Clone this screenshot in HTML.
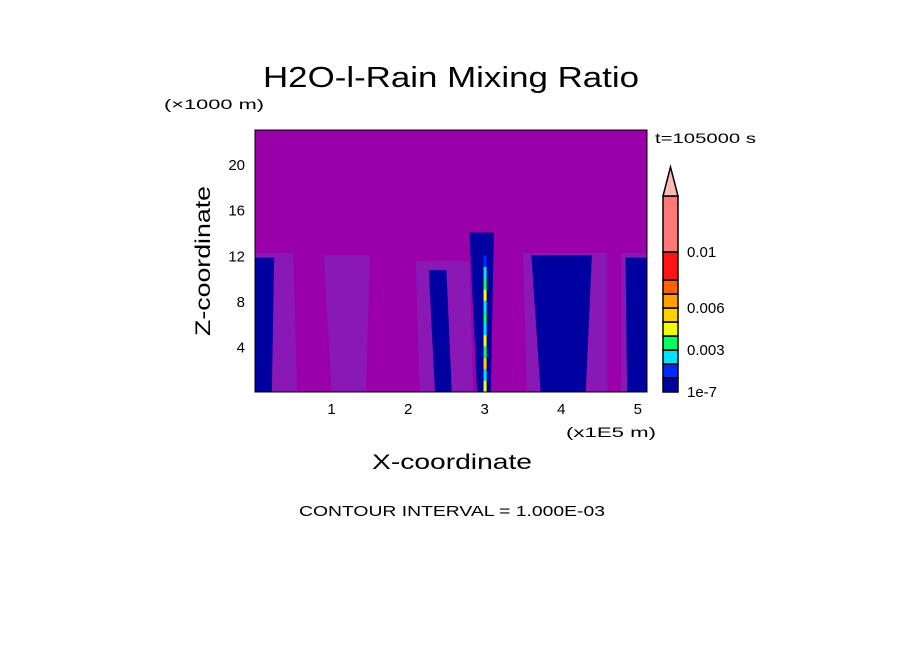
<!DOCTYPE html>
<html><head><meta charset="utf-8"><style>
html,body{margin:0;padding:0;background:#fff;}
svg{display:block;font-family:"Liberation Sans",sans-serif;}
</style></head><body>
<svg id="chart" width="904" height="654" viewBox="0 0 904 654">
<text x="451" y="87" text-anchor="middle" font-size="29" textLength="376" lengthAdjust="spacingAndGlyphs">H2O-l-Rain Mixing Ratio</text>
<text x="164" y="109" font-size="14" textLength="100" lengthAdjust="spacingAndGlyphs">(×1000 m)</text>
<text x="655" y="143" font-size="14" textLength="101" lengthAdjust="spacingAndGlyphs">t=105000 s</text>
<g id="plot"></g>
<g id="cbar"></g>
<text transform="translate(210,261) rotate(-90)" text-anchor="middle" font-size="21" textLength="150" lengthAdjust="spacingAndGlyphs">Z-coordinate</text>
<text x="452" y="469" text-anchor="middle" font-size="21" textLength="160" lengthAdjust="spacingAndGlyphs">X-coordinate</text>
<text x="566" y="437" font-size="14" textLength="90" lengthAdjust="spacingAndGlyphs">(x1E5 m)</text>
<text x="452" y="516" text-anchor="middle" font-size="15" textLength="306" lengthAdjust="spacingAndGlyphs">CONTOUR INTERVAL = 1.000E-03</text>
</svg>
<script>
// axis data
const xTicks=[1,2,3,4,5];
const yTicks=[4,8,12,16,20];
const xDomain=[0,5.12];
const yDomain=[0,23];
// rain columns (x in 1E5 m: bottom-left, bottom-right, top-left, top-right, top height km)
const lightCols=[[0,0.55,0,0.5,12.2],[1.0,1.45,0.9,1.5,12],[2.15,2.85,2.1,2.8,11.5],[3.55,4.6,3.5,4.6,12.2],[4.78,5.12,4.78,5.12,12.2]];
const darkCols=[[0,0.22,0,0.25,11.8],[2.35,2.57,2.27,2.5,10.7],[2.9,3.08,2.8,3.12,14],[3.73,4.32,3.61,4.4,12],[4.86,5.12,4.84,5.12,11.8]];
// central high-value streak (height km, value class index)
const streakZ=[0.5,1.5,2.5,3.5,4.5,5.5,6.5,7.5,8.5,9.5,10.5,11.5];
const streakV=[4,2,5,3,4,2,3,2,4,3,2,1];
// colorbar bins: colors and level index boundaries (bin i spans levels[i]..levels[i+1])
const cbColors=["#0000a0","#0028ff","#00e0ff","#00ff60","#f0ff00","#ffd000","#ffa000","#ff6400","#ff1414","#ff7878"];
const cbLevels=[0,1,2,3,4,5,6,7,8,10,14];
const cbLabels=["1e-7","0.003","0.006","0.01"];
const cbLabelIdx=[0,3,6,10];

const ns="http://www.w3.org/2000/svg";
const L=255,R=647,T=130,B=392;
const sx=v=>L+(v-xDomain[0])/(xDomain[1]-xDomain[0])*(R-L);
const sy=v=>B-(v-yDomain[0])/(yDomain[1]-yDomain[0])*(B-T);
function mk(tag,attrs,parent){const e=document.createElementNS(ns,tag);for(const k in attrs)e.setAttribute(k,attrs[k]);parent.appendChild(e);return e;}
const plot=document.getElementById('plot');
let bg=mk('rect',{x:L,y:T,width:R-L,height:B-T,fill:'#9900a8'},plot);


function col(c,fill,name){
  const p=mk('polygon',{points:`${sx(c[0])},${B} ${sx(c[1])},${B} ${sx(c[3])},${sy(c[4])} ${sx(c[2])},${sy(c[4])}`,fill:fill},plot);
  
  
}
lightCols.forEach(c=>col(c,'#8a18b4','light-rain-column'));
darkCols.forEach(c=>col(c,'#0000a0','rain-column'));
const step=(streakZ[1]-streakZ[0]);
streakZ.forEach((z,i)=>{
  const r=mk('rect',{x:sx(2.985),y:sy(z+step/2),width:sx(3.025)-sx(2.985),height:sy(z-step/2)-sy(z+step/2),fill:cbColors[streakV[i]]},plot);
  
  
});
let fr=mk('rect',{x:L,y:T,width:R-L,height:B-T,fill:'none',stroke:'#000','stroke-width':1},plot);


xTicks.forEach(t=>{
  const tx=mk('text',{x:sx(t),y:B+22,'text-anchor':'middle','font-size':15},plot);tx.textContent=t;
  
  
});
yTicks.forEach(t=>{
  const tx=mk('text',{x:L-10,y:sy(t)+6,'text-anchor':'end','font-size':15},plot);tx.textContent=t;
  
  
});
// colorbar
const cb=document.getElementById('cbar');
const cx=663,cw=15,cbBot=392,segH=14;
const ly=l=>cbBot-segH*l;
cbColors.forEach((c,i)=>{
  const y1=ly(cbLevels[i+1]),y0=ly(cbLevels[i]);
  const r=mk('rect',{x:cx,y:y1,width:cw,height:y0-y1,fill:c,stroke:'#000','stroke-width':1.5},cb);
  
  
});
const cbTop=ly(cbLevels[cbLevels.length-1]);
let ar=mk('polygon',{points:`${cx},${cbTop} ${cx+cw},${cbTop} ${cx+cw/2},167`,fill:'#ffb8b8',stroke:'#000','stroke-width':1.5},cb);


cbLabels.forEach((l,i)=>{
  const t=mk('text',{x:687,y:ly(cbLabelIdx[i]===10?8:cbLabelIdx[i])+ (cbLabelIdx[i]===10?-23:5),'font-size':15},cb);t.textContent=l;
  
  
});
</script>
</body></html>
